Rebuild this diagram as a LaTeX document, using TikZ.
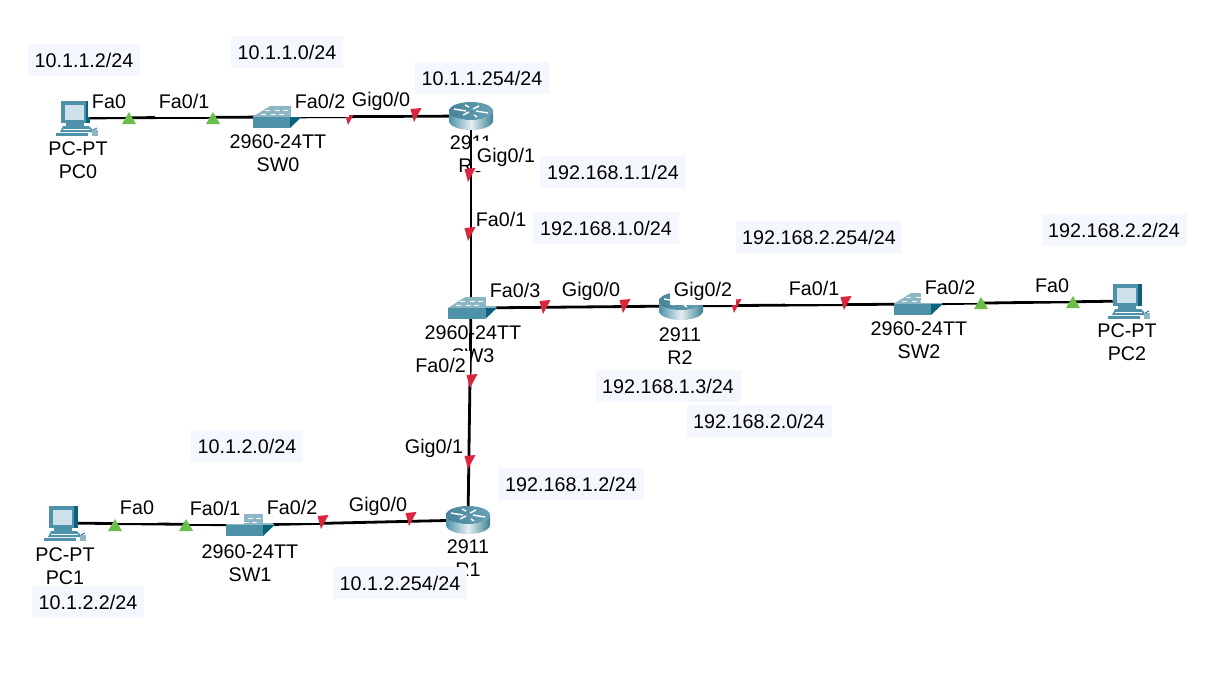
\documentclass[tikz,border=0pt]{standalone}
\usepackage{fontspec}
\setmainfont{Liberation Sans}
\usetikzlibrary{positioning}
\definecolor{teal}{RGB}{78,146,170}
\definecolor{tealdark}{RGB}{12,98,122}
\definecolor{teallight}{RGB}{140,182,196}
\definecolor{screen}{RGB}{205,225,235}
\definecolor{ipback}{RGB}{245,247,254}
\definecolor{upgreen}{RGB}{108,190,75}
\definecolor{downred}{RGB}{218,37,60}
\tikzset{
  device/.style={inner sep=0pt,minimum width=21pt,minimum height=14pt},
  link/.style={draw=black,line width=2.1pt},
  caption/.style={font=\fontsize{14.8}{16}\selectfont,inner sep=0pt},
  port/.style={font=\fontsize{14.8}{16}\selectfont,fill=white,anchor=base,inner xsep=3pt,
    inner ysep=2pt,text height=14pt,text depth=5pt},
  ip/.style={font=\fontsize{14.8}{16}\selectfont,fill=ipback,inner xsep=5pt,inner ysep=0pt,
    minimum height=24pt},
  % pictograms
  pics/pc/.style={code={
    \fill[tealdark] (-14,-17) rectangle (15,5);
    \fill[teal] (-14,-17) rectangle (11,5);
    \fill[screen] (-10,-13) rectangle (9,2);
    \fill[teal] (-9,5) rectangle (9,8);
    \fill[teal] (-12,8) -- (14,8) -- (17,11) -- (17,14) -- (-15,14) -- cycle;
    \draw[white,line width=.6pt] (-12,11) -- (15,11);
    \fill[teal] (-19,15) rectangle (13,18);
    \fill[teallight] (17,12) rectangle (23,18);
    \draw[tealdark,line width=.6pt] (18,12) -- (22,10);
  }},
  pics/switch/.style={code={
    \fill[teallight] (-24.5,0) -- (-7,-11) -- (15,-11) -- (24.5,0) -- cycle;
    \foreach \x in {-8,2,10} \draw[white,line width=.7pt] (\x-4,-7) -- (\x+1,-7) (\x-8,-3) -- (\x-3,-3);
    \fill[teal] (-24.5,0) rectangle (13,11);
    \fill[tealdark] (13,0) -- (24.5,0) -- (13,11) -- cycle;
  }},
  pics/router/.style={code={
    \shade[left color=teal,right color=tealdark!80,middle color=white!85!teal]
      (-22,-5) -- (-22,5) arc (180:0:22 and 9) -- (22,-5) arc (0:180:22 and 9) -- cycle;
    \shade[left color=teal!90!black,right color=teal!85!white] (0,-5) ellipse (22 and 9);
    \draw[white,line width=1.1pt] (-17,-7) -- (-5,-5) (17,-3) -- (5,-5)
      (-8,-1) -- (-2,-4) (8,-10) -- (2,-7) (-6,-11) -- (-2,-9) (6,1) -- (3,-1);
  }},
  pics/upgreen/.style={code={
    \fill[upgreen] (-7,6) -- (0,-6) -- (7,6) -- cycle;
  }},
  pics/downred/.style={code={
    \fill[downred] (-5.5,-6) -- (5.5,-7) -- (-2,7) -- cycle;
  }},
}
\begin{document}
\begin{tikzpicture}[x=0.75pt,y=-0.75pt]
  \useasboundingbox (0,0) rectangle (1218,679);
  \fill[white] (0,0) rectangle (1218,679);
  % devices
  \node[device] (pc0) at (75,118) {};
  \node[device] (sw0) at (277,117) {};
  \node[device] (r0) at (471,116) {};
  \node[device] (sw3) at (471,308) {};
  \node[device] (r2) at (681,306) {};
  \node[device] (sw2) at (918,304) {};
  \node[device] (pc2) at (1127,301) {};
  \node[device] (r1) at (468,520) {};
  \node[device] (sw1) at (250,525) {};
  \node[device] (pc1) at (63,523) {};
  % links
  \draw[link] (pc0) -- (sw0);
  \draw[link] (sw0) -- (r0);
  \draw[link] (r0) -- (sw3);
  \draw[link] (sw3) -- (r2);
  \draw[link] (r2) -- (sw2);
  \draw[link] (sw2) -- (pc2);
  \draw[link] (sw3) -- (r1);
  \draw[link] (sw1) -- (r1);
  \draw[link] (pc1) -- (sw1);
  \pic at (pc0) {pc};
  \pic at (pc1) {pc};
  \pic at (pc2) {pc};
  \pic at (sw0) {switch};
  \pic at (sw1) {switch};
  \pic at (sw2) {switch};
  \pic[xshift=1pt] at (sw3) {switch};
  \pic at (r0) {router};
  \pic at (r1) {router};
  \pic at (r2) {router};
  % captions
  \node[caption] (pc0a) at (78,149) {PC-PT};
  \node[caption,below=6pt of pc0a] (pc0b) {PC0};
  \node[caption] (sw0a) at (278,142) {2960-24TT};
  \node[caption,below=6pt of sw0a] (sw0b) {SW0};
  \node[caption] (r0a) at (471,143) {2911};
  \node[caption,below=6pt of r0a] (r0b) {R0};
  \node[caption] (sw3a) at (473,333) {2960-24TT};
  \node[caption,below=6pt of sw3a] (sw3b) {SW3};
  \node[caption] (r2a) at (680,335) {2911};
  \node[caption,below=6pt of r2a] (r2b) {R2};
  \node[caption] (sw2a) at (919,329) {2960-24TT};
  \node[caption,below=6pt of sw2a] (sw2b) {SW2};
  \node[caption] (pc2a) at (1127,331) {PC-PT};
  \node[caption,below=6pt of pc2a] (pc2b) {PC2};
  \node[caption] (r1a) at (468,547) {2911};
  \node[caption,below=6pt of r1a] (r1b) {R1};
  \node[caption] (sw1a) at (250,552) {2960-24TT};
  \node[caption,below=6pt of sw1a] (sw1b) {SW1};
  \node[caption] (pc1a) at (65,555) {PC-PT};
  \node[caption,below=6pt of pc1a] (pc1b) {PC1};
  % these two lights sit under the port labels
  \foreach \x/\y in {350/118,736/306}
    \pic at (\x,\y) {downred};
  % ports
  \node[port] (pc0fa) at (109,108) {Fa0};
  \node[port] (sw0fa1) at (184,108) {Fa0/1};
  \node[port] (sw0fa2) at (320,108) {Fa0/2};
  \node[port] (r0gi0) at (381,106) {Gig0/0};
  \node[port] (r0gi1) at (506,162) {Gig0/1};
  \node[port] (sw3fa1) at (501,226) {Fa0/1};
  \node[port] (sw3fa3) at (515,297) {Fa0/3};
  \node[port] (r2gi0) at (591,296) {Gig0/0};
  \node[port] (r2gi2) at (703,296) {Gig0/2};
  \node[port] (sw2fa1) at (814,295) {Fa0/1};
  \node[port] (sw2fa2) at (950,294) {Fa0/2};
  \node[port] (pc2fa) at (1052,292) {Fa0};
  \node[port] (sw3fa2) at (440.5,372) {Fa0/2};
  \node[port] (r1gi1) at (434,453) {Gig0/1};
  \node[port] (r1gi0) at (378,511) {Gig0/0};
  \node[port] (sw1fa2) at (292,514) {Fa0/2};
  \node[port] (sw1fa1) at (215,515) {Fa0/1};
  \node[port] (pc1fa) at (137,514) {Fa0};
  % link lights
  \foreach \x/\y in {129/118,213/118,981/303,1073/302,115/525,186/525}
    \pic at (\x,\y) {upgreen};
  \foreach \x/\y in {416/115,470/175,470/234,545/307,625/306,846/303,
    472/381,470/462,323/522,411/519}
    \pic at (\x,\y) {downred};
  % addresses
  \node[ip] (pc0ip) at (84,60) {10.1.1.2/24};
  \node[ip] (net0) at (287,52) {10.1.1.0/24};
  \node[ip] (r0ip) at (482,78) {10.1.1.254/24};
  \node[ip] (r0ipb) at (613,172) {192.168.1.1/24};
  \node[ip] (net1) at (606,228) {192.168.1.0/24};
  \node[ip] (r2ipb) at (819,237) {192.168.2.254/24};
  \node[ip] (pc2ip) at (1114,230) {192.168.2.2/24};
  \node[ip] (r2ip) at (668,386) {192.168.1.3/24};
  \node[ip] (net2) at (759,421) {192.168.2.0/24};
  \node[ip] (net3) at (247,446) {10.1.2.0/24};
  \node[ip] (r1ip) at (571,484) {192.168.1.2/24};
  \node[ip] (r1ipb) at (400,583) {10.1.2.254/24};
  \node[ip] (pc1ip) at (88,602) {10.1.2.2/24};
\end{tikzpicture}
\end{document}
